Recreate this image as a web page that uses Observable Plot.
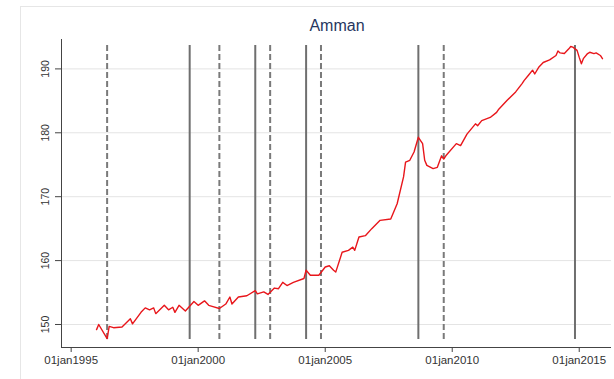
<!DOCTYPE html>
<html>
<head>
<meta charset="utf-8">
<script src="https://cdn.jsdelivr.net/npm/d3@7"></script>
<script src="https://cdn.jsdelivr.net/npm/@observablehq/plot@0.6"></script>
<style>
  html, body { margin: 0; padding: 0; background: #fff; }
  #wrap { position: relative; width: 614px; height: 379px; overflow: hidden;
          font-family: "Liberation Sans", Arial, sans-serif; }
  #frame { position: absolute; left: 20px; top: 6px; width: 700px; height: 420px;
           border: 1px solid #e6e6e6; box-sizing: border-box; }
  #title { position: absolute; left: 0; width: 674px; top: 17px; text-align: center;
           font-size: 16px; color: #26365e; }
  #chart { position: absolute; left: 0; top: 0; }
</style>
</head>
<body>
<div id="wrap">
  <div id="frame"></div>
  <div id="chart"></div>
  <div id="title">Amman</div>
</div>
<script>
// Monthly index readings (year-month) for Amman
const months = [
  "1996-01","1996-02","1996-06","1996-07","1996-09","1997-01","1997-05","1997-06",
  "1997-10","1997-12","1998-02","1998-04","1998-05","1998-09","1998-11","1999-01",
  "1999-02","1999-04","1999-07","1999-11","2000-01","2000-04","2000-06","2000-08",
  "2000-11","2001-02","2001-04","2001-05","2001-08","2001-12","2002-04","2002-05",
  "2002-08","2002-10","2003-01","2003-03","2003-05","2003-07","2003-10","2004-03",
  "2004-04","2004-06","2004-10","2005-01","2005-03","2005-05","2005-06","2005-09",
  "2005-12","2006-02","2006-03","2006-05","2006-08","2006-11","2007-03","2007-08",
  "2007-11","2008-02","2008-03","2008-05","2008-07","2008-09","2008-11","2008-12",
  "2009-01","2009-04","2009-06","2009-08","2009-09","2009-10","2010-03","2010-05",
  "2010-08","2010-12","2011-01","2011-03","2011-07","2011-10","2011-11","2012-03",
  "2012-07","2012-10","2012-11","2013-01","2013-03","2013-04","2013-06","2013-08",
  "2013-11","2014-02","2014-03","2014-04","2014-06","2014-08","2014-09","2014-10",
  "2014-12","2015-01","2015-02","2015-03","2015-05","2015-06","2015-08","2015-09",
  "2015-11","2015-12"
];
const values = [
  149.2,150.0,147.8,149.7,149.5,149.6,150.9,150.1,
  151.9,152.6,152.3,152.6,151.7,153.0,152.3,152.7,
  151.9,153.0,152.1,153.6,153.0,153.7,153.0,152.8,
  152.5,153.2,154.3,153.2,154.3,154.5,155.3,154.8,
  155.1,154.7,155.7,155.6,156.6,156.1,156.6,157.2,
  158.5,157.7,157.7,159.0,159.2,158.5,158.2,161.3,
  161.6,162.1,161.6,163.7,163.9,165.0,166.3,166.5,
  168.9,173.1,175.4,175.7,177.0,179.3,178.3,175.7,
  174.9,174.4,174.6,176.4,175.9,176.4,178.3,178.0,
  179.8,181.4,181.1,181.9,182.4,183.2,183.7,185.1,
  186.4,187.7,188.2,189.0,189.8,189.2,190.3,191.0,
  191.4,192.1,192.8,192.5,192.4,193.1,193.5,193.4,
  192.9,191.8,190.8,191.6,192.4,192.6,192.4,192.5,
  192.1,191.6
];

// Break dates: solid and dashed reference lines
const solidBreaks = ["1999-09","2002-04","2004-04","2008-09","2014-11"];
const dashedBreaks = ["1996-06","2000-11","2002-11","2004-11","2009-09"];

// Axis ticks
const yTicks = [150, 160, 170, 180, 190];
const xTickYears = ["1995", "2000", "2005", "2010", "2015"];

const parseMonth = d3.utcParse("%Y-%m");
const parseYear = d3.utcParse("%Y");
const series = months.map((m, i) => ({date: parseMonth(m), value: values[i]}));
const xTicks = xTickYears.map(parseYear);
const fmt = d3.utcFormat("%d%b%Y");

const xDomain = [new Date(Date.UTC(1994, 7, 15)), new Date(Date.UTC(2016, 3, 9))];
const yDomain = [146.4, 194.6];

const chart = Plot.plot({
  width: 614,
  height: 379,
  marginLeft: 61,
  marginRight: 3,
  marginTop: 39,
  marginBottom: 32,
  x: {type: "utc", domain: xDomain, label: null},
  y: {domain: yDomain, label: null},
  style: {background: "transparent", fontFamily: "'Liberation Sans', Arial, sans-serif", color: "#333"},
  marks: [
    Plot.gridY(yTicks, {stroke: "#e4e4e4", strokeOpacity: 1}),
    Plot.ruleX(solidBreaks.map(parseMonth), {x: d => d, stroke: "#6f6f6f", strokeWidth: 2, insetTop: 6, insetBottom: 8}),
    Plot.ruleX(dashedBreaks.map(parseMonth), {x: d => d, stroke: "#7a7a7a", strokeWidth: 2, strokeDasharray: "6,3", insetTop: 6, insetBottom: 8}),
    Plot.line(series, {x: "date", y: "value", stroke: "#e8161b", strokeWidth: 1.4}),
    Plot.ruleX([xDomain[0]], {stroke: "#444"}),
    Plot.ruleY([yDomain[0]], {stroke: "#444"}),
    Plot.axisY(yTicks, {tickSize: 6, tickFormat: () => "", stroke: "#444", label: null}),
    Plot.text(yTicks, {y: d => d, frameAnchor: "left", dx: -16, rotate: -90, textAnchor: "middle",
                       lineAnchor: "middle", fill: "#333", fontSize: 10.5}),
    Plot.axisX(xTicks, {tickSize: 5, tickPadding: 3, stroke: "#444", fill: "#333", fontSize: 11.5,
                        label: null, tickFormat: d => fmt(d).toLowerCase()})
  ]
});
document.getElementById("chart").appendChild(chart);
</script>
</body>
</html>
